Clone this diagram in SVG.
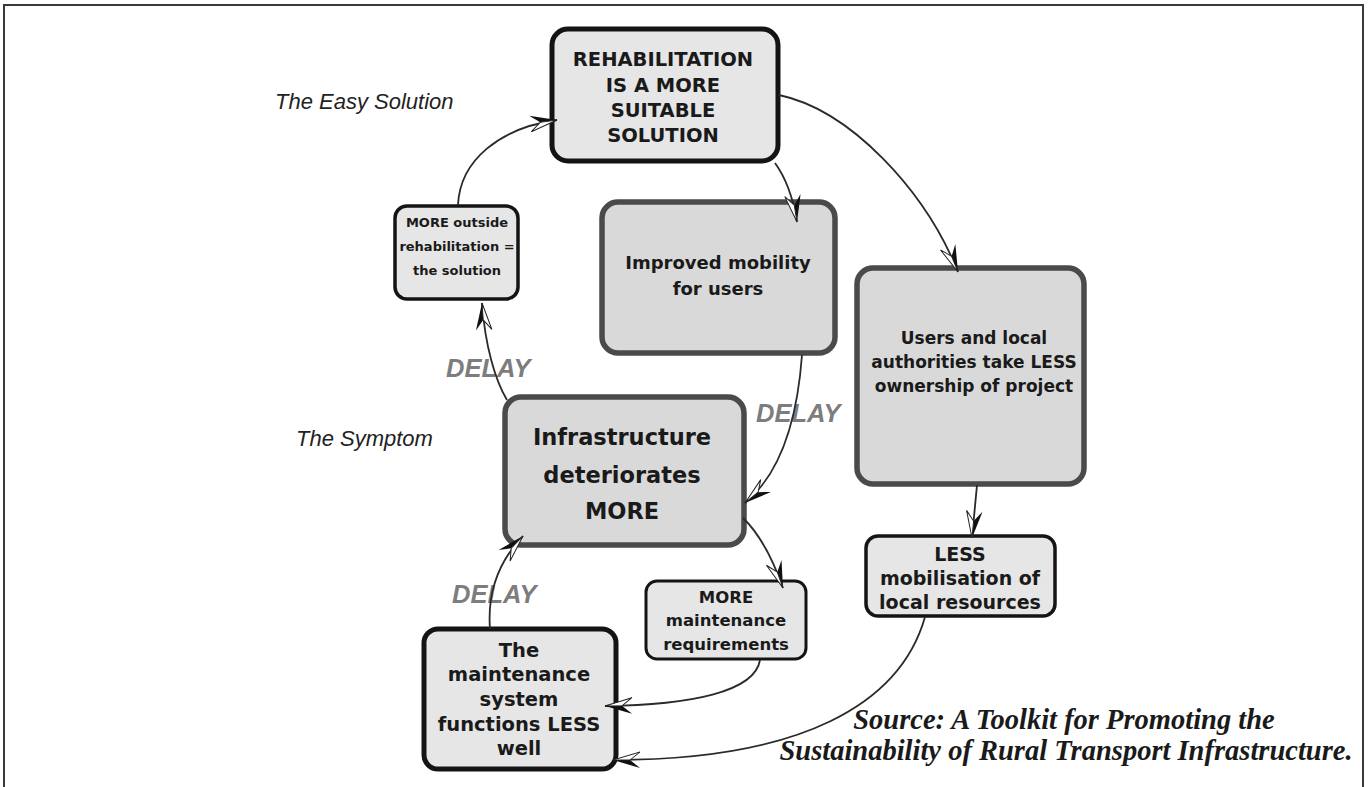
<svg xmlns="http://www.w3.org/2000/svg" width="1369" height="787" viewBox="0 0 1369 787">
<style>
.bg{fill:#ffffff}
.frame{fill:none;stroke:#3a3a3a;stroke-width:2}
.boxA{fill:#e6e6e6;stroke:#141414}
.boxB{fill:#d9d9d9;stroke:#4a4a4a;stroke-width:5.5}
.t{font-family:"DejaVu Sans","Liberation Sans",sans-serif;font-weight:bold;fill:#1a1a1a;text-anchor:middle}
.lab{font-family:"Liberation Sans",Arial,sans-serif;font-style:italic;fill:#222;font-size:22px}
.delay{font-family:"Liberation Sans",Arial,sans-serif;font-style:italic;font-weight:bold;fill:#7d7d7d;font-size:25.5px}
.src{font-family:"Liberation Serif","Times New Roman",serif;font-style:italic;font-weight:bold;fill:#1a1a1a;font-size:28.5px;text-anchor:middle}
.conn{fill:none;stroke:#2a2a2a;stroke-width:1.8;marker-end:url(#arr)}
</style>
<defs>
<marker id="arr" markerUnits="userSpaceOnUse" viewBox="-29 -10 31 20" markerWidth="31" markerHeight="20" refX="0" refY="0" orient="auto">
<path d="M0,0 L-27,-8 L-17,0 Z" fill="#111"/>
<path d="M0,0 L-27,8 L-17,0 Z" fill="#fff" stroke="#222" stroke-width="1"/>
</marker>
</defs>
<rect class="bg" x="0" y="0" width="1369" height="787"/>
<path class="frame" d="M4,787 V5 H1363 V787"/>

<text class="lab" x="275" y="109">The Easy Solution</text>
<text class="lab" x="296" y="446">The Symptom</text>
<text class="delay" x="446" y="377">DELAY</text>
<text class="delay" x="756" y="422">DELAY</text>
<text class="delay" x="452" y="603">DELAY</text>

<g id="n-rehab">
<rect class="boxA" x="552" y="29" width="226" height="132" rx="16" stroke-width="5"/>
<text class="t" font-size="19.5" x="663" y="66">REHABILITATION</text>
<text class="t" font-size="19.5" x="663" y="92">IS A MORE</text>
<text class="t" font-size="19.5" x="663" y="117">SUITABLE</text>
<text class="t" font-size="19.5" x="663" y="142">SOLUTION</text>
</g>
<g id="n-outside">
<rect class="boxA" x="395" y="206" width="123" height="93" rx="12" stroke-width="3.5"/>
<text class="t" font-size="13" x="457" y="227">MORE outside</text>
<text class="t" font-size="13" x="457" y="251">rehabilitation =</text>
<text class="t" font-size="13" x="457" y="275">the solution</text>
</g>
<g id="n-mobility">
<rect class="boxB" x="602" y="202" width="233" height="151" rx="16"/>
<text class="t" font-size="18" x="718" y="269">Improved mobility</text>
<text class="t" font-size="18" x="718" y="295">for users</text>
</g>
<g id="n-users">
<rect class="boxB" x="857" y="268" width="227" height="216" rx="16"/>
<text class="t" font-size="17" x="974" y="344">Users and local</text>
<text class="t" font-size="17" x="974" y="368">authorities take LESS</text>
<text class="t" font-size="17" x="974" y="392">ownership of project</text>
</g>
<g id="n-infra">
<rect class="boxB" x="505" y="397" width="239" height="148" rx="16"/>
<text class="t" font-size="22.5" x="622" y="445">Infrastructure</text>
<text class="t" font-size="22.5" x="622" y="483">deteriorates</text>
<text class="t" font-size="22.5" x="622" y="519">MORE</text>
</g>
<g id="n-maintreq">
<rect class="boxA" x="646" y="581" width="160" height="78" rx="11" stroke-width="3"/>
<text class="t" font-size="16.5" x="726" y="603">MORE</text>
<text class="t" font-size="16.5" x="726" y="626">maintenance</text>
<text class="t" font-size="16.5" x="726" y="650">requirements</text>
</g>
<g id="n-mobilisation">
<rect class="boxA" x="866" y="536" width="189" height="80" rx="12" stroke-width="3.5"/>
<text class="t" font-size="19" x="960" y="561">LESS</text>
<text class="t" font-size="19" x="960" y="585">mobilisation of</text>
<text class="t" font-size="19" x="960" y="609">local resources</text>
</g>
<g id="n-system">
<rect class="boxA" x="424" y="629" width="192" height="140" rx="14" stroke-width="5"/>
<text class="t" font-size="19.5" x="519" y="657">The</text>
<text class="t" font-size="19.5" x="519" y="681">maintenance</text>
<text class="t" font-size="19.5" x="519" y="706">system</text>
<text class="t" font-size="19.5" x="519" y="731">functions LESS</text>
<text class="t" font-size="19.5" x="519" y="755">well</text>
</g>

<g id="connectors">
<path class="conn" d="M779,95 C850,110 925,190 958,272"/>
<path class="conn" d="M775,163 Q791,185 797,222"/>
<path class="conn" d="M802,355 C798,410 785,470 745,503"/>
<path class="conn" d="M977,485 L972,538"/>
<path class="conn" d="M743,518 Q766,540 783,588"/>
<path class="conn" d="M760,660 C755,692 690,705 605,706"/>
<path class="conn" d="M925,617 C900,705 800,760 613,760"/>
<path class="conn" d="M490,629 C487,590 500,560 523,536"/>
<path class="conn" d="M507,400 C495,380 485,345 482,303"/>
<path class="conn" d="M458,205 C460,160 500,128 557,120"/>
</g>

<text class="src" x="1064" y="729">Source: A Toolkit for Promoting the</text>
<text class="src" x="1066" y="760">Sustainability of Rural Transport Infrastructure.</text>
</svg>
